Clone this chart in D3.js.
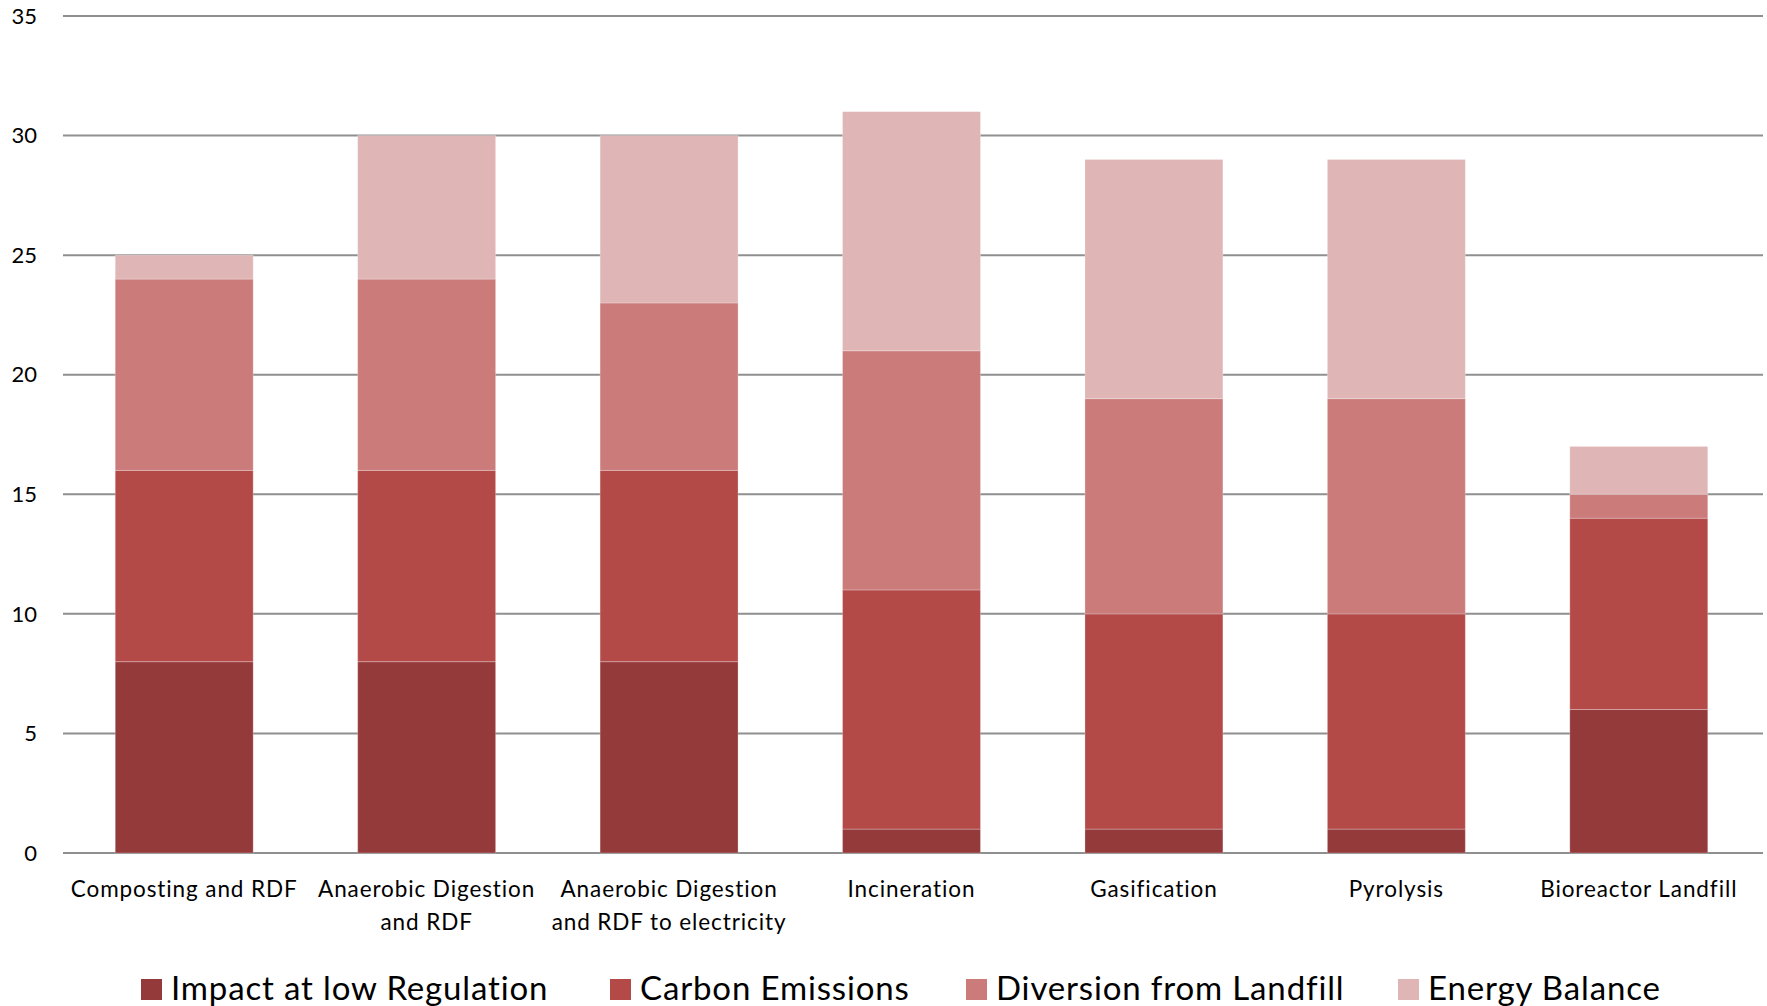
<!DOCTYPE html>
<html>
<head>
<meta charset="utf-8">
<script src="https://cdn.jsdelivr.net/npm/d3@7"></script>
<style>
  html, body { margin: 0; padding: 0; background: #fff; }
  svg { display: block; }
  text { font-family: Lato, "Open Sans", sans-serif; fill: #000; }
</style>
</head>
<body>
<svg id="chart" width="1767" height="1006"></svg>
<script>
// Waste treatment options, scored on four criteria (stacked)
const categories = [
  ["Composting and RDF"],
  ["Anaerobic Digestion", "and RDF"],
  ["Anaerobic Digestion", "and RDF to electricity"],
  ["Incineration"],
  ["Gasification"],
  ["Pyrolysis"],
  ["Bioreactor Landfill"]
];
const seriesNames = ["Impact at low Regulation", "Carbon Emissions", "Diversion from Landfill", "Energy Balance"];
const impactLowRegulation = [8, 8, 8, 1, 1, 1, 6];
const carbonEmissions     = [8, 8, 8, 10, 9, 9, 8];
const diversionFromLandfill = [8, 8, 7, 10, 9, 9, 1];
const energyBalance       = [1, 6, 7, 10, 10, 10, 2];
const yTicks = [0, 5, 10, 15, 20, 25, 30, 35];
const colors = ["#953a3b", "#b34a48", "#ca7b7a", "#dfb5b5"];

const svg = d3.select("#chart");
const plot = { left: 63, right: 1760, top: 16, bottom: 853 };

const keys = categories.map(c => c.join(" "));
const rows = keys.map((k, i) => ({
  key: k,
  s0: impactLowRegulation[i],
  s1: carbonEmissions[i],
  s2: diversionFromLandfill[i],
  s3: energyBalance[i]
}));

const x = d3.scaleBand()
  .domain(keys)
  .range([plot.left, plot.right])
  .paddingInner(0.431)
  .paddingOuter(0.2155);

const y = d3.scaleLinear().domain([0, 35]).range([plot.bottom, plot.top]);

// horizontal gridlines
svg.append("g")
  .selectAll("line")
  .data(yTicks)
  .join("line")
  .attr("x1", plot.left)
  .attr("x2", plot.right + 3)
  .attr("y1", d => y(d))
  .attr("y2", d => y(d))
  .attr("stroke", "#8f8f8f")
  .attr("stroke-width", 2);

// y tick labels
svg.append("g")
  .selectAll("text")
  .data(yTicks)
  .join("text")
  .attr("x", 37)
  .attr("y", d => y(d))
  .attr("dy", "0.35em")
  .attr("text-anchor", "end")
  .style("font-size", "22px")
  .text(d => d);

// stacked bars
const stack = d3.stack().keys(["s0", "s1", "s2", "s3"]);
const layers = stack(rows);

svg.append("g")
  .selectAll("g")
  .data(layers)
  .join("g")
  .attr("fill", (d, i) => colors[i])
  .selectAll("rect")
  .data(d => d)
  .join("rect")
  .attr("x", d => x(d.data.key))
  .attr("width", x.bandwidth())
  .attr("y", d => y(d[1]))
  .attr("height", d => y(d[0]) - y(d[1]))
  .attr("stroke", "rgba(255,255,255,0.25)")
  .attr("stroke-width", 1);

// category labels
const catG = svg.append("g");
categories.forEach((lines, i) => {
  const cx = x(keys[i]) + x.bandwidth() / 2;
  const t = catG.append("text")
    .attr("text-anchor", "middle")
    .style("font-size", "22.5px")
    .style("letter-spacing", "0.9px");
  lines.forEach((ln, j) => {
    t.append("tspan")
      .attr("x", cx)
      .attr("y", 897 + j * 33)
      .text(ln);
  });
});

// legend
const legendX = [141, 610, 966, 1398];
const leg = svg.append("g");
seriesNames.forEach((name, i) => {
  leg.append("rect")
    .attr("x", legendX[i])
    .attr("y", 979)
    .attr("width", 21)
    .attr("height", 21)
    .attr("fill", colors[i]);
  leg.append("text")
    .attr("x", legendX[i] + 30)
    .attr("y", 1000)
    .style("font-size", "33px")
    .style("letter-spacing", "0.85px")
    .text(name);
});
</script>
</body>
</html>
